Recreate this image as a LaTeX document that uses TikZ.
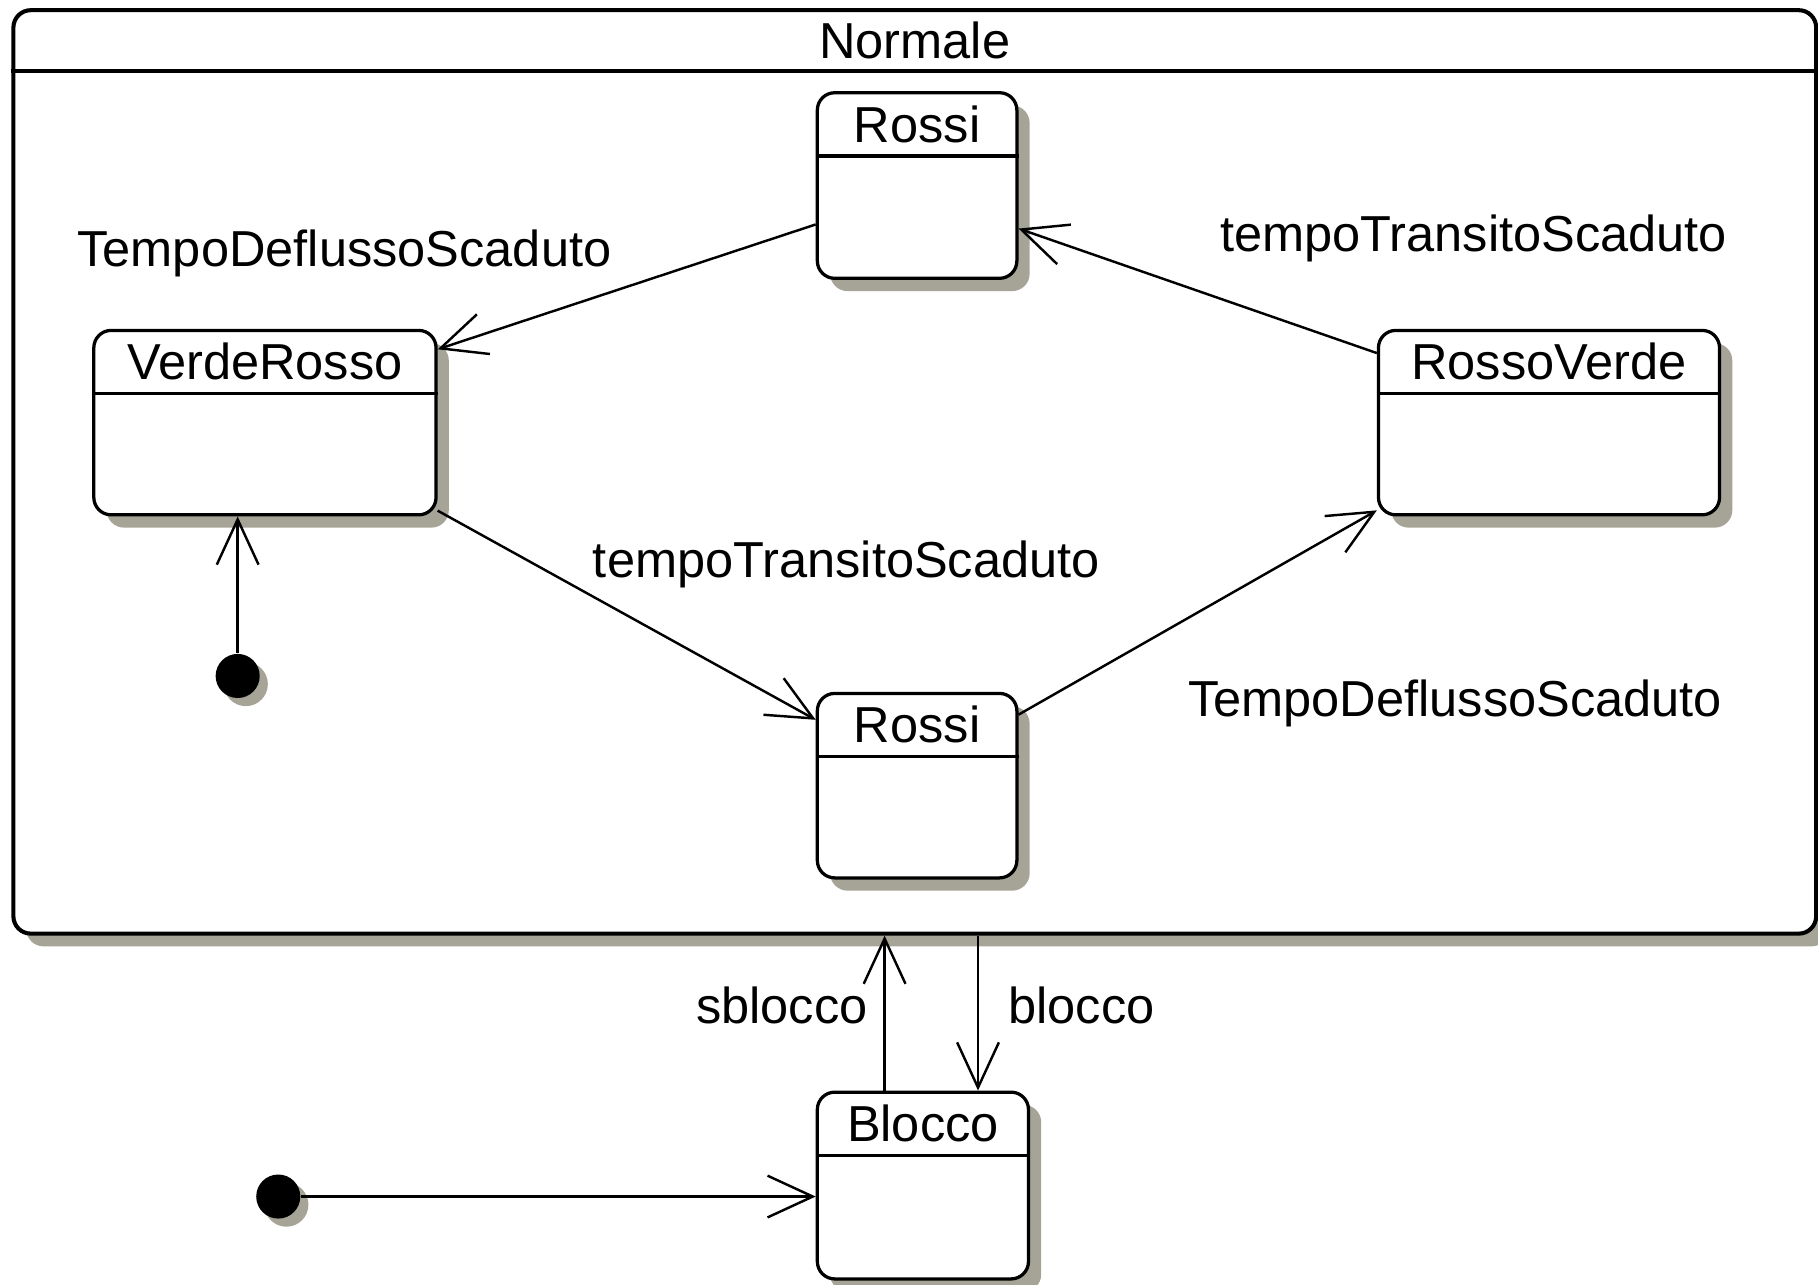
\documentclass[tikz,border=0pt]{standalone}
\usepackage{fontspec}
\setmainfont{Liberation Sans}
\usetikzlibrary{arrows.meta,positioning,shadows}
\definecolor{shadowgray}{RGB}{166,164,150}

\tikzset{
  statebox/.style={draw, line width=0.8pt, fill=white, rounded corners=0.15cm,
    minimum height=1.59cm, inner sep=0pt,
    drop shadow={shadow xshift=0.11cm, shadow yshift=-0.11cm, fill=shadowgray, opacity=1}},
  initdot/.style={circle, fill=black, minimum size=0.38cm, inner sep=0pt,
    drop shadow={shadow xshift=0.07cm, shadow yshift=-0.07cm, fill=shadowgray, opacity=1}},
  trans/.style={line width=0.6pt, -{Straight Barb[length=3.9mm,width=3.6mm]}},
  lbl/.style={anchor=base, inner sep=0pt},
}

\begin{document}
\begin{tikzpicture}[x=0.01cm, y=-0.01cm, font=\fontsize{12.4}{14}\selectfont]
  \useasboundingbox (0,0) rectangle (1568,1108);

  % composite state
  \node[statebox, line width=1pt, minimum width=15.54cm, minimum height=7.96cm] (normale) at (789,407) {};
  \draw[line width=1pt] ([yshift=-0.54cm]normale.north west) -- ([yshift=-0.54cm]normale.north east);
  \node[lbl] (normalet) at ([yshift=-0.43cm]normale.north) {Normale};

  % states
  \node[statebox, minimum width=1.72cm, minimum height=1.60cm] (rossiA) at (791,160) {};
  \node[statebox, minimum width=2.95cm] (verde) at (228.5,364.5) {};
  \node[statebox, minimum width=2.94cm] (rosso) at (1336,364.5) {};
  \node[statebox, minimum width=1.72cm] (rossiB) [below=3.55cm of rossiA] {};
  \node[statebox, minimum width=1.82cm, minimum height=1.61cm] (blocco) at (796,1022.5) {};
  \foreach \s in {rossiA,verde,rosso,rossiB,blocco}
    \draw[line width=0.8pt] ([yshift=-0.56cm]\s.north west) -- ([yshift=-0.56cm]\s.north east);

  \node[lbl] (rossiAt) at ([yshift=-0.44cm]rossiA.north) {Rossi};
  \node[lbl] (verdet) at ([yshift=-0.44cm]verde.north) {VerdeRosso};
  \node[lbl] (rossot) at ([yshift=-0.44cm]rosso.north) {RossoVerde};
  \node[lbl] (rossiBt) at ([yshift=-0.44cm]rossiB.north) {Rossi};
  \node[lbl] (bloccot) at ([yshift=-0.44cm]blocco.north) {Blocco};

  % initial states
  \node[initdot] (init1) at (205,583) {};
  \node[initdot] (init2) at (240,1032) {};

  % transitions
  \draw[trans] (init1) -- (init1 |- verde.south);
  \draw[trans] (init2) -- (init2 -| blocco.west);
  \draw[trans] (rossiA.201) -- (verde.23);
  \draw[trans] (rosso.158) -- (rossiA.-23);
  \draw[trans] (verde.-27) -- (rossiB.147);
  \draw[trans] (rossiB.35) -- (rosso.207);
  \draw[trans] ([xshift=-0.33cm]blocco.north) -- ([xshift=-0.33cm]blocco.north |- normale.south);
  \draw[trans] ([xshift=0.475cm]blocco.north |- normale.south) -- ([xshift=0.475cm]blocco.north);

  % labels
  \node[lbl] (tdsA) at (297,230) {TempoDeflussoScaduto};
  \node[lbl] (ttsA) at (1271,217) {tempoTransitoScaduto};
  \node[lbl] (ttsB) at (730,498) {tempoTransitoScaduto};
  \node[lbl] (tdsB) at (1255,618) {TempoDeflussoScaduto};
  \node[lbl, anchor=base east] (sbl) at (749,883) {sblocco};
  \node[lbl, anchor=base west] (bl) at (869,883) {blocco};
\end{tikzpicture}
\end{document}
